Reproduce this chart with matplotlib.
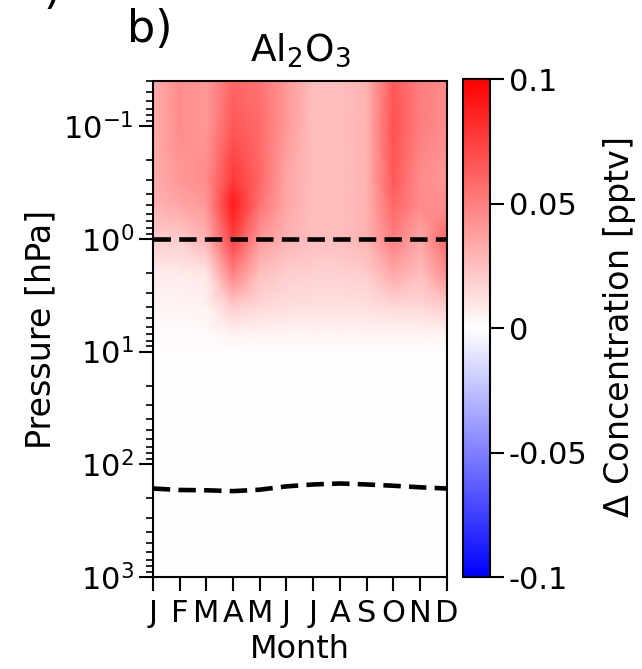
import numpy as np
import matplotlib
matplotlib.use('Agg')
import matplotlib.pyplot as plt

months = np.arange(1, 13)
month_labels = ['J', 'F', 'M', 'A', 'M', 'J', 'J', 'A', 'S', 'O', 'N', 'D']

# pressure levels [hPa]
plev = np.array([0.04, 0.1, 0.3, 0.5, 1.0, 2.0, 4.0, 7.0, 10.0, 20.0, 100.0, 1000.0])

# delta concentration [pptv], one row per pressure level, Jan..Dec
dconc = np.array([
    [0.032, 0.045, 0.040, 0.060, 0.055, 0.040, 0.025, 0.025, 0.030, 0.065, 0.050, 0.045],
    [0.032, 0.045, 0.040, 0.065, 0.058, 0.040, 0.025, 0.025, 0.030, 0.068, 0.050, 0.045],
    [0.032, 0.040, 0.045, 0.078, 0.060, 0.035, 0.025, 0.025, 0.030, 0.065, 0.045, 0.040],
    [0.030, 0.035, 0.040, 0.090, 0.055, 0.035, 0.025, 0.025, 0.030, 0.060, 0.045, 0.045],
    [0.020, 0.020, 0.030, 0.075, 0.040, 0.030, 0.025, 0.025, 0.030, 0.050, 0.035, 0.060],
    [0.008, 0.008, 0.010, 0.050, 0.025, 0.020, 0.018, 0.018, 0.020, 0.035, 0.025, 0.045],
    [0.004, 0.004, 0.005, 0.020, 0.015, 0.013, 0.012, 0.012, 0.012, 0.015, 0.015, 0.020],
    [0.002, 0.002, 0.002, 0.005, 0.004, 0.004, 0.004, 0.004, 0.004, 0.004, 0.004, 0.005],
    [0.001, 0.001, 0.001, 0.001, 0.001, 0.001, 0.001, 0.001, 0.001, 0.001, 0.001, 0.001],
    [0.0, 0.0, 0.0, 0.0, 0.0, 0.0, 0.0, 0.0, 0.0, 0.0, 0.0, 0.0],
    [0.0, 0.0, 0.0, 0.0, 0.0, 0.0, 0.0, 0.0, 0.0, 0.0, 0.0, 0.0],
    [0.0, 0.0, 0.0, 0.0, 0.0, 0.0, 0.0, 0.0, 0.0, 0.0, 0.0, 0.0],
])

# tropopause pressure [hPa]
trop = np.array([164, 169, 170, 173, 168, 157, 151, 148, 151, 155, 160, 164])
stratopause = 1.0

cbar_ticks = [-0.1, -0.05, 0, 0.05, 0.1]
cbar_labels = ['-0.1', '-0.05', '0', '0.05', '0.1']

fig = plt.figure(figsize=(6.42, 6.69), dpi=100)
ax = fig.add_axes([0.238, 0.1375, 0.458, 0.741])
cax = fig.add_axes([0.721, 0.1375, 0.042, 0.744])

X, Y = np.meshgrid(months, plev)
pc = ax.pcolormesh(X, Y, dconc, cmap='bwr', vmin=-0.1, vmax=0.1, shading='gouraud')

ax.plot(months, trop, 'k--', lw=3.3, dashes=(3.8, 1.8))
ax.plot([1, 12], [stratopause, stratopause], 'k--', lw=3.3, dashes=(3.8, 1.8))

ax.set_yscale('log')
ax.set_ylim(1000, 0.04)
ax.set_xlim(1, 12)
ax.set_xticks(months)
ax.set_xticklabels(month_labels)
ax.set_yticks([1e-1, 1e0, 1e1, 1e2, 1e3])
ax.tick_params(axis='both', which='major', labelsize=22, length=10, width=1.5)
ax.tick_params(axis='x', which='major', pad=6)
ax.tick_params(axis='y', which='minor', length=5, width=1.2)
for s in ax.spines.values():
    s.set_linewidth(1.5)

ax.set_xlabel('Month', fontsize=23, labelpad=4)
ax.set_ylabel('Pressure [hPa]', fontsize=24, labelpad=4)
ax.set_title(r'Al$_2$O$_3$', fontsize=27, pad=15)
fig.text(0.198, 0.937, 'b)', fontsize=32, va='baseline')
fig.text(0.068, 0.995, ')', fontsize=32, va='baseline')

cb = fig.colorbar(pc, cax=cax)
cb.set_ticks(cbar_ticks)
cb.set_ticklabels(cbar_labels)
cb.ax.tick_params(labelsize=22, length=10, width=1.5)
cb.outline.set_linewidth(1.5)
cb.set_label(r'$\Delta$ Concentration [pptv]', fontsize=24, labelpad=10)

plt.savefig('out.png', dpi=100)
